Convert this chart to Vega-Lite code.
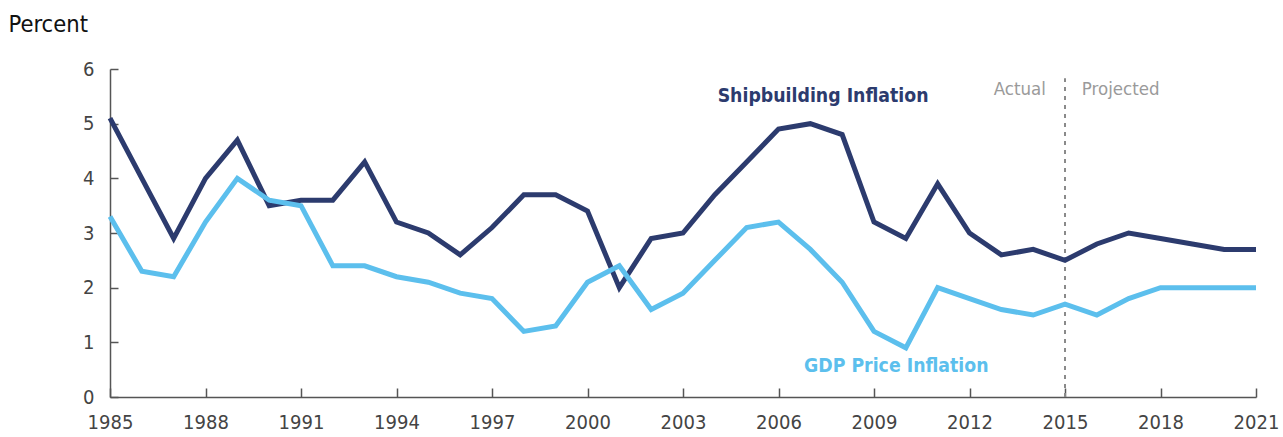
{
  "$schema": "https://vega.github.io/schema/vega-lite/v6.json",
  "width": 1146,
  "height": 328,
  "autosize": "none",
  "padding": {"left": 110, "top": 69, "right": 27, "bottom": 40},
  "background": "white",
  "config": {"view": {"stroke": null}, "font": "DejaVu Sans Condensed, Roboto, sans-serif"},
  "datasets": {
    "series": [
      {"year": 1985, "series": "Shipbuilding", "value": 5.1},
      {"year": 1986, "series": "Shipbuilding", "value": 4.0},
      {"year": 1987, "series": "Shipbuilding", "value": 2.9},
      {"year": 1988, "series": "Shipbuilding", "value": 4.0},
      {"year": 1989, "series": "Shipbuilding", "value": 4.7},
      {"year": 1990, "series": "Shipbuilding", "value": 3.5},
      {"year": 1991, "series": "Shipbuilding", "value": 3.6},
      {"year": 1992, "series": "Shipbuilding", "value": 3.6},
      {"year": 1993, "series": "Shipbuilding", "value": 4.3},
      {"year": 1994, "series": "Shipbuilding", "value": 3.2},
      {"year": 1995, "series": "Shipbuilding", "value": 3.0},
      {"year": 1996, "series": "Shipbuilding", "value": 2.6},
      {"year": 1997, "series": "Shipbuilding", "value": 3.1},
      {"year": 1998, "series": "Shipbuilding", "value": 3.7},
      {"year": 1999, "series": "Shipbuilding", "value": 3.7},
      {"year": 2000, "series": "Shipbuilding", "value": 3.4},
      {"year": 2001, "series": "Shipbuilding", "value": 2.0},
      {"year": 2002, "series": "Shipbuilding", "value": 2.9},
      {"year": 2003, "series": "Shipbuilding", "value": 3.0},
      {"year": 2004, "series": "Shipbuilding", "value": 3.7},
      {"year": 2005, "series": "Shipbuilding", "value": 4.3},
      {"year": 2006, "series": "Shipbuilding", "value": 4.9},
      {"year": 2007, "series": "Shipbuilding", "value": 5.0},
      {"year": 2008, "series": "Shipbuilding", "value": 4.8},
      {"year": 2009, "series": "Shipbuilding", "value": 3.2},
      {"year": 2010, "series": "Shipbuilding", "value": 2.9},
      {"year": 2011, "series": "Shipbuilding", "value": 3.9},
      {"year": 2012, "series": "Shipbuilding", "value": 3.0},
      {"year": 2013, "series": "Shipbuilding", "value": 2.6},
      {"year": 2014, "series": "Shipbuilding", "value": 2.7},
      {"year": 2015, "series": "Shipbuilding", "value": 2.5},
      {"year": 2016, "series": "Shipbuilding", "value": 2.8},
      {"year": 2017, "series": "Shipbuilding", "value": 3.0},
      {"year": 2018, "series": "Shipbuilding", "value": 2.9},
      {"year": 2019, "series": "Shipbuilding", "value": 2.8},
      {"year": 2020, "series": "Shipbuilding", "value": 2.7},
      {"year": 2021, "series": "Shipbuilding", "value": 2.7},
      {"year": 1985, "series": "GDP", "value": 3.3},
      {"year": 1986, "series": "GDP", "value": 2.3},
      {"year": 1987, "series": "GDP", "value": 2.2},
      {"year": 1988, "series": "GDP", "value": 3.2},
      {"year": 1989, "series": "GDP", "value": 4.0},
      {"year": 1990, "series": "GDP", "value": 3.6},
      {"year": 1991, "series": "GDP", "value": 3.5},
      {"year": 1992, "series": "GDP", "value": 2.4},
      {"year": 1993, "series": "GDP", "value": 2.4},
      {"year": 1994, "series": "GDP", "value": 2.2},
      {"year": 1995, "series": "GDP", "value": 2.1},
      {"year": 1996, "series": "GDP", "value": 1.9},
      {"year": 1997, "series": "GDP", "value": 1.8},
      {"year": 1998, "series": "GDP", "value": 1.2},
      {"year": 1999, "series": "GDP", "value": 1.3},
      {"year": 2000, "series": "GDP", "value": 2.1},
      {"year": 2001, "series": "GDP", "value": 2.4},
      {"year": 2002, "series": "GDP", "value": 1.6},
      {"year": 2003, "series": "GDP", "value": 1.9},
      {"year": 2004, "series": "GDP", "value": 2.5},
      {"year": 2005, "series": "GDP", "value": 3.1},
      {"year": 2006, "series": "GDP", "value": 3.2},
      {"year": 2007, "series": "GDP", "value": 2.7},
      {"year": 2008, "series": "GDP", "value": 2.1},
      {"year": 2009, "series": "GDP", "value": 1.2},
      {"year": 2010, "series": "GDP", "value": 0.9},
      {"year": 2011, "series": "GDP", "value": 2.0},
      {"year": 2012, "series": "GDP", "value": 1.8},
      {"year": 2013, "series": "GDP", "value": 1.6},
      {"year": 2014, "series": "GDP", "value": 1.5},
      {"year": 2015, "series": "GDP", "value": 1.7},
      {"year": 2016, "series": "GDP", "value": 1.5},
      {"year": 2017, "series": "GDP", "value": 1.8},
      {"year": 2018, "series": "GDP", "value": 2.0},
      {"year": 2019, "series": "GDP", "value": 2.0},
      {"year": 2020, "series": "GDP", "value": 2.0},
      {"year": 2021, "series": "GDP", "value": 2.0}
    ]
  },
  "layer": [
    {
      "data": {"values": [{"year": 2015, "y0": 0, "y1": 5.83}]},
      "mark": {"type": "rule", "color": "#8a8a8a", "strokeWidth": 2, "strokeDash": [4, 5]},
      "encoding": {
        "x": {"field": "year", "type": "quantitative"},
        "y": {"field": "y0", "type": "quantitative"},
        "y2": {"field": "y1"}
      }
    },
    {
      "data": {"name": "series"},
      "mark": {"type": "line", "strokeWidth": 5, "strokeJoin": "miter"},
      "encoding": {
        "x": {
          "field": "year", "type": "quantitative",
          "scale": {"domain": [1985, 2021], "nice": false, "zero": false},
          "axis": {
            "values": [1985, 1988, 1991, 1994, 1997, 2000, 2003, 2006, 2009, 2012, 2015, 2018, 2021],
            "format": "d", "title": null, "grid": false,
            "domainColor": "#555555", "domainWidth": 1.5,
            "tickColor": "#555555", "tickWidth": 1.5, "tickSize": -9,
            "labelPadding": 24, "labelFontSize": 20, "labelColor": "#444444",
            "labelFont": "DejaVu Sans Condensed, Roboto, sans-serif", "labelFlush": false
          }
        },
        "y": {
          "field": "value", "type": "quantitative",
          "scale": {"domain": [0, 6], "nice": false},
          "axis": {
            "values": [0, 1, 2, 3, 4, 5, 6], "format": "d", "grid": false,
            "domainColor": "#555555", "domainWidth": 1.5,
            "tickColor": "#555555", "tickWidth": 1.5, "tickSize": -8,
            "labelPadding": 24, "labelFontSize": 20, "labelColor": "#444444",
            "labelFont": "DejaVu Sans Condensed, Roboto, sans-serif",
            "title": "Percent", "titleAngle": 0, "titleX": -102, "titleY": -45,
            "titleAlign": "left", "titleBaseline": "middle",
            "titleFont": "DejaVu Sans Condensed, Roboto, sans-serif", "titleFontSize": 23.5,
            "titleFontWeight": "normal", "titleColor": "#111111"
          }
        },
        "color": {
          "field": "series", "type": "nominal",
          "scale": {"domain": ["Shipbuilding", "GDP"], "range": ["#2c3b6e", "#5cbfed"]},
          "legend": null
        }
      }
    },
    {
      "data": {"values": [
        {"year": 2007.4, "value": 5.51, "label": "Shipbuilding Inflation", "kind": "ship"},
        {"year": 2009.7, "value": 0.57, "label": "GDP Price Inflation", "kind": "gdp"}
      ]},
      "mark": {"type": "text", "fontWeight": "bold", "fontSize": 19.3, "font": "DejaVu Sans Condensed, Roboto, sans-serif", "align": "center", "baseline": "middle"},
      "encoding": {
        "x": {"field": "year", "type": "quantitative"},
        "y": {"field": "value", "type": "quantitative"},
        "text": {"field": "label"},
        "color": {"field": "kind", "type": "nominal", "scale": {"domain": ["ship", "gdp"], "range": ["#2c3b6e", "#5cbfed"]}, "legend": null}
      }
    },
    {
      "data": {"values": [
        {"year": 2014.4, "value": 5.63, "label": "Actual"}
      ]},
      "mark": {"type": "text", "fontSize": 18.5, "font": "DejaVu Sans Condensed, Roboto, sans-serif", "align": "right", "baseline": "middle", "color": "#9a9a9a"},
      "encoding": {
        "x": {"field": "year", "type": "quantitative"},
        "y": {"field": "value", "type": "quantitative"},
        "text": {"field": "label"}
      }
    },
    {
      "data": {"values": [
        {"year": 2015.53, "value": 5.63, "label": "Projected"}
      ]},
      "mark": {"type": "text", "fontSize": 18.5, "font": "DejaVu Sans Condensed, Roboto, sans-serif", "align": "left", "baseline": "middle", "color": "#9a9a9a"},
      "encoding": {
        "x": {"field": "year", "type": "quantitative"},
        "y": {"field": "value", "type": "quantitative"},
        "text": {"field": "label"}
      }
    }
  ],
  "resolve": {"scale": {"color": "independent"}}
}
